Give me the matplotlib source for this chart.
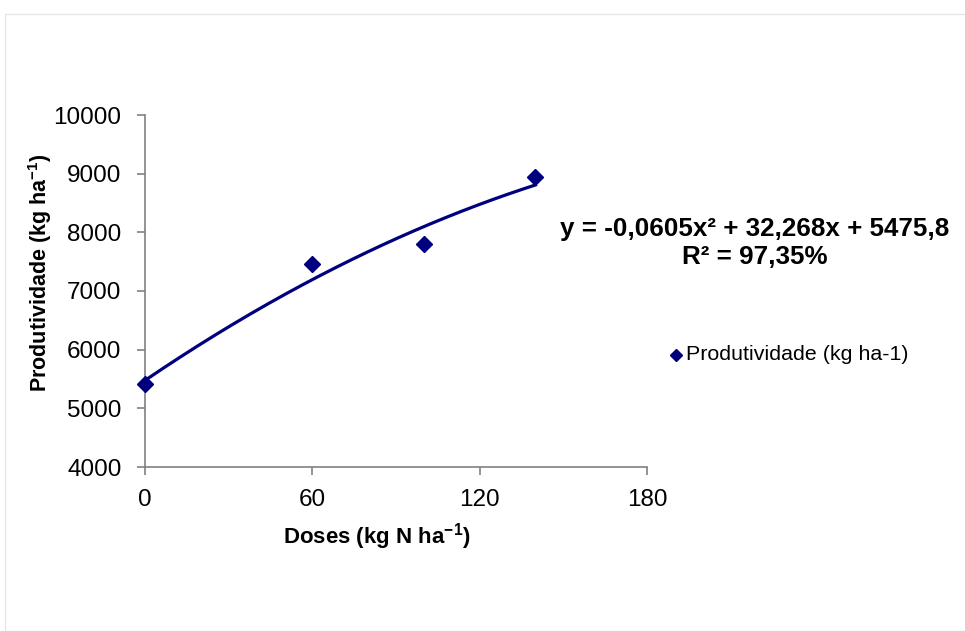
import numpy as np
import matplotlib
matplotlib.use("Agg")
import matplotlib.pyplot as plt
from matplotlib.patches import Rectangle

# Data
doses = [0, 60, 100, 140]
produtividade = [5420, 7466, 7806, 8940]
trend_coef = [-0.0605, 32.268, 5475.8]   # a, b, c of y = a x^2 + b x + c
x_ticks = [0, 60, 120, 180]
y_ticks = [4000, 5000, 6000, 7000, 8000, 9000, 10000]

plt.rcParams['font.family'] = ['Liberation Sans', 'DejaVu Sans']
plt.rcParams['mathtext.fontset'] = 'custom'
plt.rcParams['mathtext.rm'] = 'Liberation Sans'
plt.rcParams['mathtext.bf'] = 'Liberation Sans:bold'

navy = '#00007F'
fig = plt.figure(figsize=(9.65, 6.31), dpi=100)
fig.patches.append(Rectangle((5/965, 0), 1.2, 1 - 14/631, transform=fig.transFigure,
                             facecolor='none', edgecolor='#e6e6e6', linewidth=1.0))

ax = fig.add_axes([145/965, 1 - 467/631, 502/965, 352/631])
xs = np.linspace(0, 140, 200)
a, b, c = trend_coef
ax.plot(xs, a * xs**2 + b * xs + c, color=navy, linewidth=2.3, zorder=2)
ax.plot(doses, produtividade, linestyle='none', marker='D', markersize=8.5,
        color=navy, zorder=3, clip_on=False)

ax.set_xlim(0, 180)
ax.set_ylim(4000, 10000)
ax.set_xticks(x_ticks)
ax.set_yticks(y_ticks)
for s in ['top', 'right']:
    ax.spines[s].set_visible(False)
for s in ['left', 'bottom']:
    ax.spines[s].set_color('#808080')
    ax.spines[s].set_linewidth(1.2)
ax.tick_params(axis='both', direction='out', length=6, width=1.2, color='#808080',
               labelsize=17.5, labelcolor='black')
ax.tick_params(axis='y', pad=11)
ax.tick_params(axis='x', pad=10)

fig.text(377/965, 1 - 537/631, r'Doses (kg N ha$^{\mathbf{-1}}$)', ha='center', va='center',
         fontsize=16, fontweight='bold')
fig.text(40/965, 1 - 273/631, r'Produtividade (kg ha$^{\mathbf{-1}}$)', ha='center', va='center',
         rotation=90, fontsize=15.5, fontweight='bold')

fig.text(755/965, 1 - 229/631, 'y = -0,0605x² + 32,268x + 5475,8', ha='center', va='center',
         fontsize=18.7, fontweight='bold')
fig.text(755/965, 1 - 257/631, 'R² = 97,35%', ha='center', va='center',
         fontsize=18.7, fontweight='bold')

fig.lines.append(plt.Line2D([676/965], [1 - 355/631], transform=fig.transFigure,
                            marker='D', markersize=6, color=navy, linestyle='none'))
fig.text(686/965, 1 - 355/631, 'Produtividade (kg ha-1)', ha='left', va='center', fontsize=15.4)

fig.savefig('out.png', dpi=100)
